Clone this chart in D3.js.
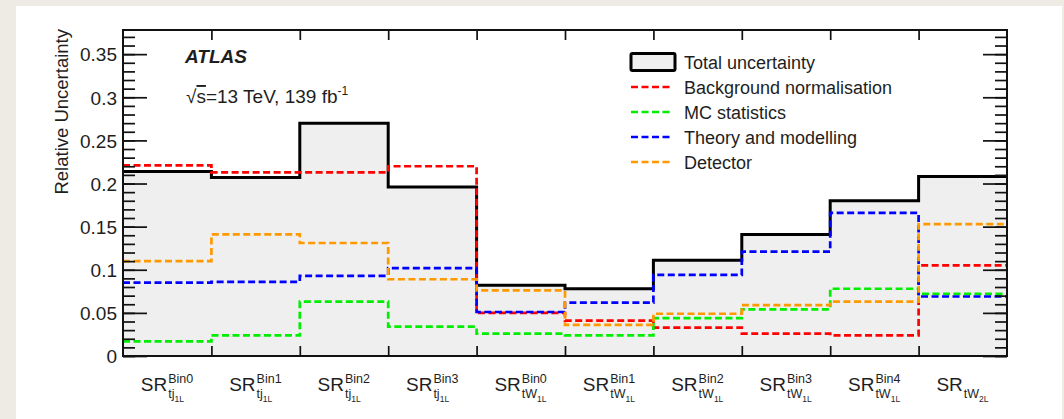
<!DOCTYPE html>
<html>
<head>
<meta charset="utf-8">
<script src="https://cdn.jsdelivr.net/npm/d3@7"></script>
<style>
    body { margin: 0; background: #eeebe5; }
    svg { display: block; }
    text { font-family: "Liberation Sans", Arial, Helvetica, sans-serif; fill: #1e1e1e; }
</style>
</head>
<body>
<svg id="chart" width="1064" height="419"></svg>
<script>
// bin labels: SR^{sup}_{sub_{subsub}}
const labelSup = ["Bin0", "Bin1", "Bin2", "Bin3", "Bin0", "Bin1", "Bin2", "Bin3", "Bin4", ""];
const labelSub = ["tj", "tj", "tj", "tj", "tW", "tW", "tW", "tW", "tW", "tW"];
const labelSubSub = ["1L", "1L", "1L", "1L", "1L", "1L", "1L", "1L", "1L", "2L"];

// relative uncertainties per bin
const total      = [0.214, 0.207, 0.270, 0.196, 0.082, 0.078, 0.111, 0.141, 0.180, 0.208];
const bkgNorm    = [0.221, 0.213, 0.213, 0.220, 0.050, 0.041, 0.033, 0.026, 0.024, 0.105];
const mcStat     = [0.017, 0.024, 0.063, 0.034, 0.026, 0.024, 0.044, 0.054, 0.078, 0.072];
const theory     = [0.085, 0.086, 0.093, 0.102, 0.051, 0.062, 0.094, 0.121, 0.166, 0.069];
const detector   = [0.110, 0.141, 0.131, 0.089, 0.076, 0.036, 0.049, 0.059, 0.063, 0.153];

const yTicks = [0, 0.05, 0.1, 0.15, 0.2, 0.25, 0.3, 0.35];
const yTickLabels = ["0", "0.05", "0.1", "0.15", "0.2", "0.25", "0.3", "0.35"];

const legendLabels = ["Total uncertainty", "Background normalisation", "MC statistics", "Theory and modelling", "Detector"];
const components = [bkgNorm, mcStat, theory, detector];
const componentColors = ["#ff0000", "#00ee00", "#0000ff", "#ff9900"];

const svg = d3.select("#chart");
const width = 1064, height = 419;
const margin = {top: 30, right: 57, bottom: 63, left: 123};

// white panel
svg.append("rect")
    .attr("x", 16).attr("y", 6)
    .attr("width", 1046).attr("height", height - 6)
    .attr("fill", "#fff");

const nBins = total.length;
const x = d3.scaleLinear()
    .domain([0, nBins])
    .range([margin.left, width - margin.right]);
const y = d3.scaleLinear()
    .domain([0, 0.378])
    .range([height - margin.bottom, margin.top]);

// step outline of a histogram
function steps(values) {
    const pts = [];
    values.forEach((v, i) => { pts.push([i, v], [i + 1, v]); });
    return pts;
}

// total: filled histogram
svg.append("path")
    .attr("d", d3.area().x(d => x(d[0])).y0(y(0)).y1(d => y(d[1]))(steps(total)))
    .attr("fill", "#efefef");
svg.append("path")
    .attr("d", d3.line().x(d => x(d[0])).y(d => y(d[1]))(steps(total)))
    .attr("fill", "none")
    .attr("stroke", "#000")
    .attr("stroke-width", 3);

// components: dashed histograms
components.forEach((vals, k) => {
    svg.append("path")
        .attr("d", d3.line().x(d => x(d[0])).y(d => y(d[1]))(steps(vals)))
        .attr("fill", "none")
        .attr("stroke", componentColors[k])
        .attr("stroke-width", 2.7)
        .attr("stroke-dasharray", "7,3.5");
});

// axes (ticks pointing inwards)
const minorTicks = y.ticks(40).filter(t => t <= 0.375);
function styleAxis(g) {
    g.select(".domain").remove();
    g.selectAll(".tick line").attr("stroke", "#111").attr("stroke-width", 1.7);
}
svg.append("g")
    .attr("transform", `translate(${margin.left},0)`)
    .call(d3.axisLeft(y).tickValues(minorTicks).tickSize(-12).tickFormat(""))
    .call(styleAxis);
svg.append("g")
    .attr("transform", `translate(${margin.left},0)`)
    .call(d3.axisLeft(y).tickValues(yTicks).tickSize(-24).tickPadding(6)
        .tickFormat((d, i) => yTickLabels[i]))
    .call(styleAxis)
    .call(g => g.selectAll("text").attr("font-size", 19).attr("fill", "#1e1e1e").attr("dy", "0.36em"));
svg.append("g")
    .attr("transform", `translate(${width - margin.right},0)`)
    .call(d3.axisRight(y).tickValues(minorTicks).tickSize(-12).tickFormat(""))
    .call(styleAxis);
svg.append("g")
    .attr("transform", `translate(${width - margin.right},0)`)
    .call(d3.axisRight(y).tickValues(yTicks).tickSize(-24).tickFormat(""))
    .call(styleAxis);
const binEdges = d3.range(1, nBins);
svg.append("g")
    .attr("transform", `translate(0,${height - margin.bottom})`)
    .call(d3.axisBottom(x).tickValues(binEdges).tickSize(-10).tickFormat(""))
    .call(styleAxis);
svg.append("g")
    .attr("transform", `translate(0,${margin.top})`)
    .call(d3.axisTop(x).tickValues(binEdges).tickSize(-10).tickFormat(""))
    .call(styleAxis);

// frame
svg.append("rect")
    .attr("x", margin.left).attr("y", margin.top)
    .attr("width", width - margin.left - margin.right)
    .attr("height", height - margin.top - margin.bottom)
    .attr("fill", "none")
    .attr("stroke", "#111")
    .attr("stroke-width", 2);

// bin labels
const labels = svg.selectAll(".bin-label")
    .data(d3.range(nBins))
    .join("g")
    .attr("class", "bin-label")
    .attr("transform", i => `translate(${x(i + 0.5)},0)`);
labels.append("text")
    .attr("y", 391)
    .attr("text-anchor", "end")
    .attr("font-size", 19)
    .text("SR");
labels.append("text")
    .attr("x", 1).attr("y", 383)
    .attr("font-size", 12.5)
    .text(i => labelSup[i]);
const sub = labels.append("text")
    .attr("x", 1).attr("y", 398)
    .attr("font-size", 12.5);
sub.append("tspan").text(i => labelSub[i]);
sub.append("tspan").attr("dy", 4).attr("font-size", 8.5).text(i => labelSubSub[i]);

// y-axis title
svg.append("text")
    .attr("transform", "translate(68,29) rotate(-90)")
    .attr("text-anchor", "end")
    .attr("font-size", 18.5)
    .text("Relative Uncertainty");

// ATLAS label
svg.append("text")
    .attr("x", 185).attr("y", 63)
    .attr("font-size", 19)
    .attr("font-weight", "bold")
    .attr("font-style", "italic")
    .text("ATLAS");
const lumi = svg.append("text")
    .attr("x", 186).attr("y", 103)
    .attr("font-size", 19);
lumi.append("tspan").text("√");
lumi.append("tspan").style("text-decoration", "overline").text("s");
lumi.append("tspan").text("=13 TeV, 139 fb");
lumi.append("tspan").attr("dy", -8).attr("font-size", 12).text("-1");

// legend
const legend = svg.append("g").attr("transform", "translate(631,62)");
const rowH = 25;
legend.append("rect")
    .attr("x", 0).attr("y", -8.5)
    .attr("width", 44).attr("height", 17)
    .attr("fill", "#efefef")
    .attr("stroke", "#000")
    .attr("stroke-width", 3)
    .attr("rx", 1.5);
componentColors.forEach((c, k) => {
    legend.append("line")
        .attr("x1", 0).attr("x2", 40)
        .attr("y1", (k + 1) * rowH).attr("y2", (k + 1) * rowH)
        .attr("stroke", c)
        .attr("stroke-width", 2.7)
        .attr("stroke-dasharray", "7,3.5");
});
legend.selectAll(".legend-text")
    .data(legendLabels)
    .join("text")
    .attr("class", "legend-text")
    .attr("x", 53)
    .attr("y", (d, i) => i * rowH + 6.5)
    .attr("font-size", 18)
    .text(d => d);
</script>
</body>
</html>
